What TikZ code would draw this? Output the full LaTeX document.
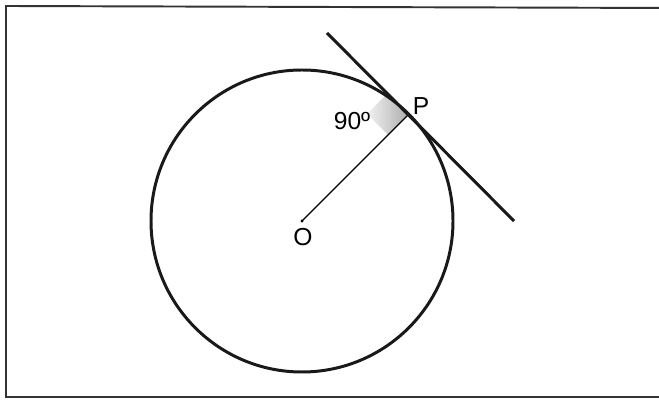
\documentclass[tikz,border=0pt]{standalone}
\usepackage{fontspec}
\setmainfont{Liberation Sans}
\usetikzlibrary{calc}
\tikzset{
  frame/.style={draw=black!80, line width=1.1pt},
  thickline/.style={draw=black!90, line width=1.7pt},
  radius/.style={draw=black, line width=0.7pt},
  lbl/.style={font=\fontsize{14}{16}\selectfont, inner sep=0pt},
}

\begin{document}
\begin{tikzpicture}[x=0.02cm, y=-0.02cm]
  \useasboundingbox (0,0) rectangle (659,401);
  % frame of the figure
  \draw[frame] (670,8) -- (6,6) -- (6,397) -- (670,397);

  % centre, point of contact, tangent ends
  \coordinate (O) at (302,221);
  \coordinate (P) at ($(O)+(107,-107)$);
  \coordinate (t1) at (327,33);
  \coordinate (t2) at (514,221);

  % right angle mark
  \shade[left color=gray!10, right color=gray!65]
    (P) -- ($(P)+(-21,-21)$) -- ($(P)+(-42,0)$) -- ($(P)+(-21,21)$) -- cycle;

  % circle, radius and tangent
  \draw[thickline] (O) circle (151);
  \draw[radius] (O) -- (P);
  \draw[thickline] (t1) -- (t2);
  \fill (O) circle (1.6);

  % labels
  \node[lbl] (angle) at (352,121) {90º};
  \node[lbl] (lP) at (421,106) {P};
  \node[lbl] (lO) at (303,237) {O};
\end{tikzpicture}
\end{document}
